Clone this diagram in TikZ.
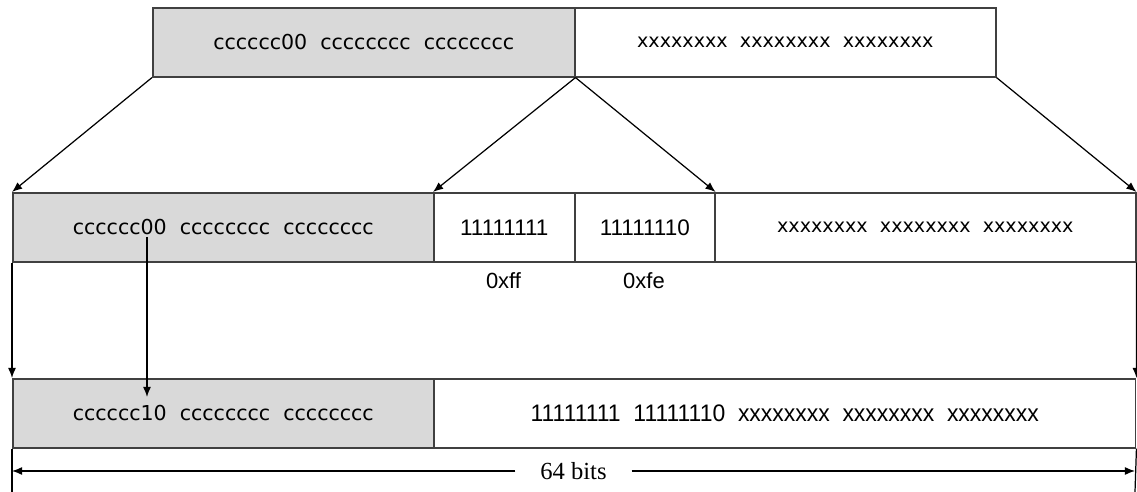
\documentclass[tikz,border=0pt]{standalone}
\usepackage{fontspec}
\usepackage{graphicx}
\usepackage{xcolor}
\usetikzlibrary{arrows.meta, positioning}
\newfontfamily\boxfont{DejaVu Sans}
\newfontfamily\numfont{Liberation Sans}
\newfontfamily\capfont{Liberation Serif}
\definecolor{cellgray}{HTML}{D9D9D9}
\definecolor{cellline}{HTML}{404040}

\begin{document}
\begin{tikzpicture}
  [
    x=0.02cm, y=-0.02cm,
    Cell/.style={rectangle, draw=cellline, line width=0.9pt, anchor=north west,
      minimum height=1.38cm, inner sep=0pt,
      font=\boxfont\fontsize{11.7}{14}\selectfont},
    Gray/.style={Cell, fill=cellgray},
    White/.style={Cell, fill=white},
    Xs/.style={font=\boxfont\fontsize{10.9}{13}\selectfont},
    Num/.style={font=\numfont\fontsize{12.8}{15}\selectfont},
    Label/.style={font=\numfont\fontsize{12.5}{15}\selectfont, inner sep=1pt},
    Arrow/.style={-{Latex[length=5.8pt, width=4.6pt]}, draw, line width=0.7pt}
  ]
  \useasboundingbox (0, 0) rectangle (1137, 492);
  % Nodes (x, y)
  % top word
  \node[Gray, minimum width=8.44cm] (t0) at(152, 7) {cccccc00~~cccccccc~~cccccccc};
  \node[White, Xs, minimum width=8.42cm] (t1) at(574, 7) {xxxxxxxx~~xxxxxxxx~~xxxxxxxx};
  % middle word
  \node[Gray, minimum width=8.42cm] (m0) at(12, 192) {cccccc00~~cccccccc~~cccccccc};
  \node[White, Num, minimum width=2.82cm] (m1) at(433, 192) {11111111};
  \node[White, Num, minimum width=2.80cm] (m2) at(574, 192) {11111110};
  \node[White, Xs, minimum width=8.42cm] (m3) at(714, 192) {xxxxxxxx~~xxxxxxxx~~xxxxxxxx};
  \node[Label] (ff) at(503.5, 281) {0xff};
  \node[Label] (fe) at(644, 281) {0xfe};
  % bottom word
  \node[Gray, minimum width=8.42cm] (b0) at(12, 378) {cccccc10~~cccccccc~~cccccccc};
  \node[White, minimum width=14.04cm, font=\numfont\fontsize{13.6}{16}\selectfont] (b1) at(433, 378)
    {\scalebox{0.96}[1]{11111111~~11111110~~xxxxxxxx~~xxxxxxxx~~xxxxxxxx}};
  % width
  \node[font=\capfont\fontsize{14}{16}\selectfont, inner xsep=14pt, inner ysep=0pt] (bits) at(573.5, 471) {64 bits};
  \coordinate (dimL) at(12, 471);
  \coordinate (dimR) at(1135, 471);
  \coordinate (endL) at(12, 492);
  \coordinate (endR) at(1135, 492);
  \coordinate (bitsrc) at(147, 237);
  \coordinate (bitdst) at(147, 397);

  % Lines
  % spread of the top word
  \path [Arrow] (t0.south west) -- (m0.north west);
  \path [Arrow] (t0.south east) -- (m1.north west);
  \path [Arrow] (t0.south east) -- (m2.north east);
  \path [Arrow] (t1.south east) -- (m3.north east);
  % drop to the bottom word
  \path [Arrow] (m0.south west) -- (b0.north west);
  \path [Arrow] (m3.south east) -- (b1.north east);
  % 00 -> 10
  \path [Arrow] (bitsrc) -- (bitdst);
  % 64 bits
  \path [draw, line width=0.7pt] (b0.south west) -- (endL);
  \path [draw, line width=0.7pt] (b1.south east) -- (endR);
  \path [Arrow] (bits.west) -- (dimL);
  \path [Arrow] (bits.east) -- (dimR);

\end{tikzpicture}
\end{document}
